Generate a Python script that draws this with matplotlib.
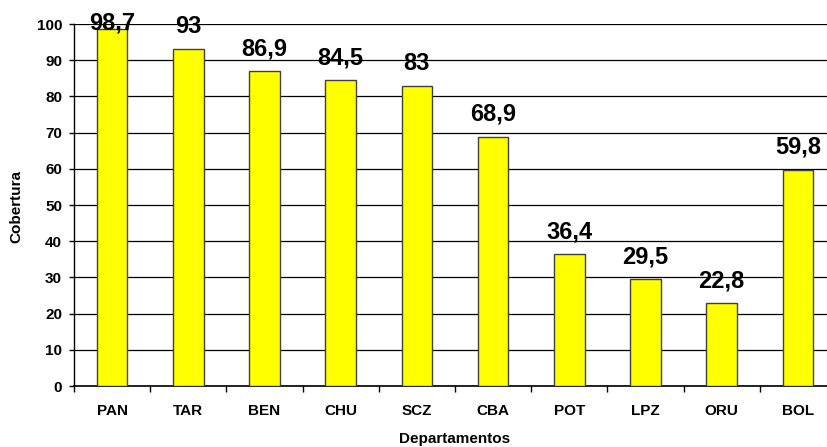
import matplotlib
matplotlib.use("Agg")
import matplotlib.pyplot as plt
import numpy as np

categories = ["PAN", "TAR", "BEN", "CHU", "SCZ", "CBA", "POT", "LPZ", "ORU", "BOL"]
values = [98.7, 93, 86.9, 84.5, 83, 68.9, 36.4, 29.5, 22.8, 59.8]
value_labels = ["98,7", "93", "86,9", "84,5", "83", "68,9", "36,4", "29,5", "22,8", "59,8"]
yticks = [0, 10, 20, 30, 40, 50, 60, 70, 80, 90, 100]

plt.rcParams['font.family'] = ['Liberation Sans', 'DejaVu Sans']

W, H = 827, 447
fig = plt.figure(figsize=(W / 100, H / 100), dpi=100)
left, right, top, bottom = 74, 836, 24, 386
ax = fig.add_axes([left / W, 1 - bottom / H, (right - left) / W, (bottom - top) / H])

x = np.arange(len(categories))
ax.bar(x, values, width=0.4, color='#ffff00', edgecolor='#404040', linewidth=1, zorder=3)

ax.set_xlim(-0.5, len(categories) - 0.5)
ax.set_ylim(0, 100)
ax.set_yticks(yticks)
ax.set_yticklabels([str(t) for t in yticks], fontsize=11, fontweight='bold')
ax.set_xticks(x)
ax.set_xticklabels(categories, fontsize=11, fontweight='bold')
ax.set_xticks(np.arange(len(categories) + 1) - 0.5, minor=True)
ax.tick_params(axis='x', which='major', length=0, pad=13)
ax.tick_params(axis='x', which='minor', length=4.5, width=1, direction='out')
ax.tick_params(axis='y', length=3.6, width=1, direction='out', pad=5)

ax.yaxis.grid(True, color='black', linewidth=0.9, zorder=0)
ax.set_axisbelow(True)
for s in ['top', 'right']:
    ax.spines[s].set_visible(False)
ax.spines['left'].set_linewidth(1)
ax.spines['bottom'].set_linewidth(1.2)

for xi, v, lab in zip(x, values, value_labels):
    yl = min(v + 4.4, 98.6)
    ax.text(xi, yl, lab, ha='center', va='baseline', fontsize=17, fontweight='bold', clip_on=False, zorder=5)

fig.text(16.5 / W, 1 - 206 / H, "Cobertura", rotation=90, ha='center', va='center', fontsize=11, fontweight='bold')
fig.text(455 / W, 1 - 439 / H, "Departamentos", ha='center', va='center', fontsize=11, fontweight='bold')

fig.savefig("out.png", dpi=100)
